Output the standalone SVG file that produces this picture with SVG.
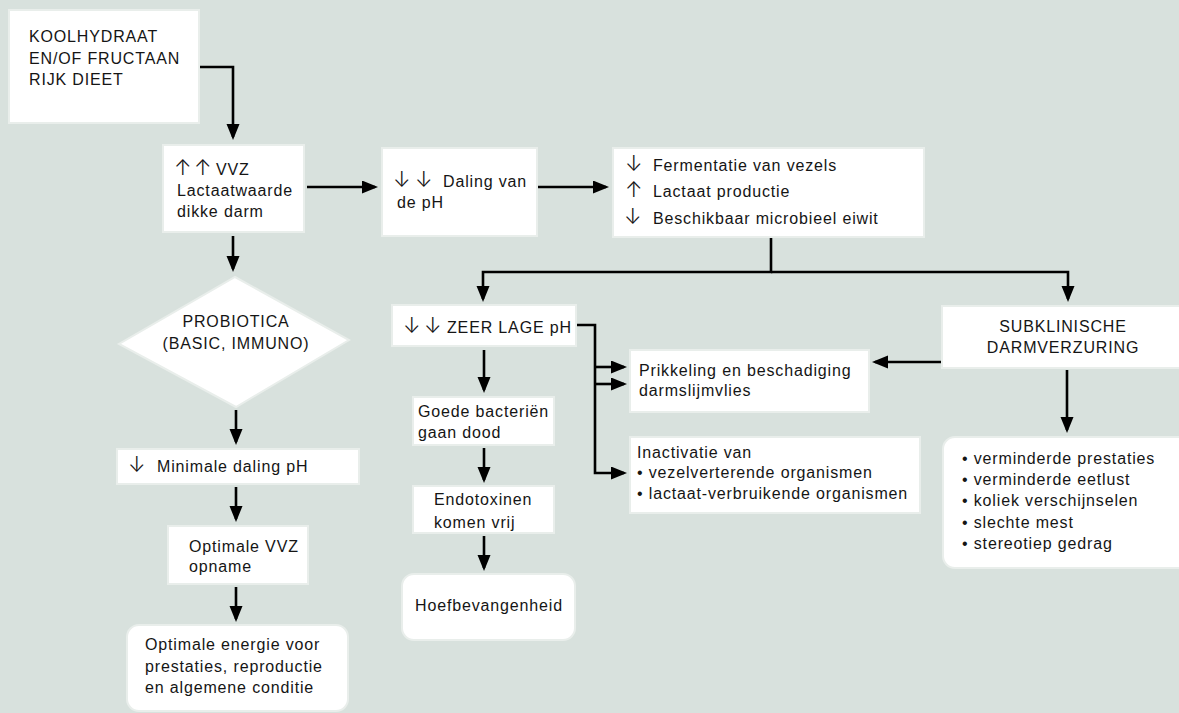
<svg xmlns="http://www.w3.org/2000/svg" width="1179" height="713" viewBox="0 0 1179 713">
<defs>
<style>
.bg{fill:#d8e1dd}
.box{fill:#ffffff;stroke:#e9eeeb;stroke-width:2}
.t{font-family:"Liberation Sans",Arial,sans-serif;font-size:16px;letter-spacing:0.85px;fill:#151515}
.c{text-anchor:middle}
.ar{font-family:Inter,"DejaVu Sans",sans-serif;font-size:21px;font-weight:300;letter-spacing:0;fill:#151515}
.ln{fill:none;stroke:#000;stroke-width:2.6}
</style>
<marker id="ah" markerUnits="userSpaceOnUse" markerWidth="17" markerHeight="14" refX="13" refY="6.5" orient="auto">
<path d="M0,0 L16,6.5 L0,13 z" fill="#000"/>
</marker>
</defs>
<rect class="bg" x="0" y="0" width="1179" height="713"/>

<g id="connectors">
<path class="ln" d="M199,67 H233 V137" marker-end="url(#ah)"/>
<path class="ln" d="M233,236 V269" marker-end="url(#ah)"/>
<path class="ln" d="M307,187 H375" marker-end="url(#ah)"/>
<path class="ln" d="M538,187 H606" marker-end="url(#ah)"/>
<path class="ln" d="M771,237 V272 H483 V299" marker-end="url(#ah)"/>
<path class="ln" d="M771,272 H1068 V299" marker-end="url(#ah)"/>
<path class="ln" d="M484,350 V390" marker-end="url(#ah)"/>
<path class="ln" d="M484,448 V480" marker-end="url(#ah)"/>
<path class="ln" d="M484,536 V568" marker-end="url(#ah)"/>
<path class="ln" d="M577,325 H595 V473 H624" marker-end="url(#ah)"/>
<path class="ln" d="M595,367 H624" marker-end="url(#ah)"/>
<path class="ln" d="M595,384 H624" marker-end="url(#ah)"/>
<path class="ln" d="M942,362 H875" marker-end="url(#ah)"/>
<path class="ln" d="M1067,370 V430" marker-end="url(#ah)"/>
<path class="ln" d="M236,410 V442" marker-end="url(#ah)"/>
<path class="ln" d="M236,487 V519" marker-end="url(#ah)"/>
<path class="ln" d="M236,587 V619" marker-end="url(#ah)"/>
</g>

<g id="n-dieet">
<rect class="box" x="9" y="10" width="190" height="113"/>
<text class="t" x="29" y="42">KOOLHYDRAAT</text>
<text class="t" x="29" y="64">EN/OF FRUCTAAN</text>
<text class="t" x="29" y="85">RIJK DIEET</text>
</g>

<g id="n-vvz">
<rect class="box" x="163" y="145" width="141" height="87"/>
<text class="t" y="175"><tspan class="ar" x="174">↑</tspan><tspan class="ar" x="194">↑</tspan><tspan x="216">VVZ</tspan></text>
<text class="t" x="177" y="196">Lactaatwaarde</text>
<text class="t" x="177" y="217">dikke darm</text>
</g>

<g id="n-daling">
<rect class="box" x="382" y="148" width="155" height="88"/>
<text class="t" y="187"><tspan class="ar" x="393">↓</tspan><tspan class="ar" x="415">↓</tspan><tspan x="443">Daling van</tspan></text>
<text class="t" x="397" y="208">de pH</text>
</g>

<g id="n-fermentatie">
<rect class="box" x="613" y="148" width="311" height="89"/>
<text class="t" y="171"><tspan class="ar" x="625">↓</tspan><tspan x="653">Fermentatie van vezels</tspan></text>
<text class="t" y="197"><tspan class="ar" x="625">↑</tspan><tspan x="653">Lactaat productie</tspan></text>
<text class="t" y="224"><tspan class="ar" x="624">↓</tspan><tspan x="653">Beschikbaar microbieel eiwit</tspan></text>
</g>

<g id="n-probiotica">
<polygon class="box" points="235,277 349,340 236,407 119,344"/>
<text class="t c" x="236" y="327">PROBIOTICA</text>
<text class="t c" x="236" y="349">(BASIC, IMMUNO)</text>
</g>

<g id="n-minimale">
<rect class="box" x="117" y="449" width="242" height="35"/>
<text class="t" y="472"><tspan class="ar" x="128">↓</tspan><tspan x="157">Minimale daling pH</tspan></text>
</g>

<g id="n-optvvz">
<rect class="box" x="168" y="526" width="140" height="58"/>
<text class="t" x="189" y="552">Optimale VVZ</text>
<text class="t" x="189" y="572">opname</text>
</g>

<g id="n-energie">
<rect class="box" x="127" y="625" width="221" height="86" rx="12"/>
<text class="t" x="145" y="650">Optimale energie voor</text>
<text class="t" x="145" y="672">prestaties, reproductie</text>
<text class="t" x="145" y="693">en algemene conditie</text>
</g>

<g id="n-zeer">
<rect class="box" x="392" y="305" width="184" height="41"/>
<text class="t" y="333"><tspan class="ar" x="403">↓</tspan><tspan class="ar" x="424">↓</tspan><tspan x="447">ZEER LAGE pH</tspan></text>
</g>

<g id="n-goede">
<rect class="box" x="413" y="397" width="141" height="48"/>
<text class="t" x="418" y="417">Goede bacteriën</text>
<text class="t" x="418" y="438">gaan dood</text>
</g>

<g id="n-endo">
<rect class="box" x="413" y="486" width="141" height="47"/>
<text class="t" x="434" y="505">Endotoxinen</text>
<text class="t" x="434" y="528">komen vrij</text>
</g>

<g id="n-hoef">
<rect class="box" x="402" y="574" width="173" height="66" rx="12"/>
<text class="t" x="415" y="611">Hoefbevangenheid</text>
</g>

<g id="n-prikkeling">
<rect class="box" x="630" y="350" width="239" height="62"/>
<text class="t" x="639" y="376">Prikkeling en beschadiging</text>
<text class="t" x="639" y="396">darmslijmvlies</text>
</g>

<g id="n-inactivatie">
<rect class="box" x="630" y="437" width="290" height="76"/>
<text class="t" x="637" y="458">Inactivatie van</text>
<text class="t" x="637" y="478">• vezelverterende organismen</text>
<text class="t" x="637" y="499">• lactaat-verbruikende organismen</text>
</g>

<g id="n-subklinisch">
<rect class="box" x="942" y="306" width="245" height="62"/>
<text class="t c" x="1063" y="332">SUBKLINISCHE</text>
<text class="t c" x="1063" y="353">DARMVERZURING</text>
</g>

<g id="n-gevolgen">
<rect class="box" x="943" y="437" width="250" height="131" rx="12"/>
<text class="t" x="962" y="464">• verminderde prestaties</text>
<text class="t" x="962" y="485">• verminderde eetlust</text>
<text class="t" x="962" y="506">• koliek verschijnselen</text>
<text class="t" x="962" y="528">• slechte mest</text>
<text class="t" x="962" y="549">• stereotiep gedrag</text>
</g>
</svg>
